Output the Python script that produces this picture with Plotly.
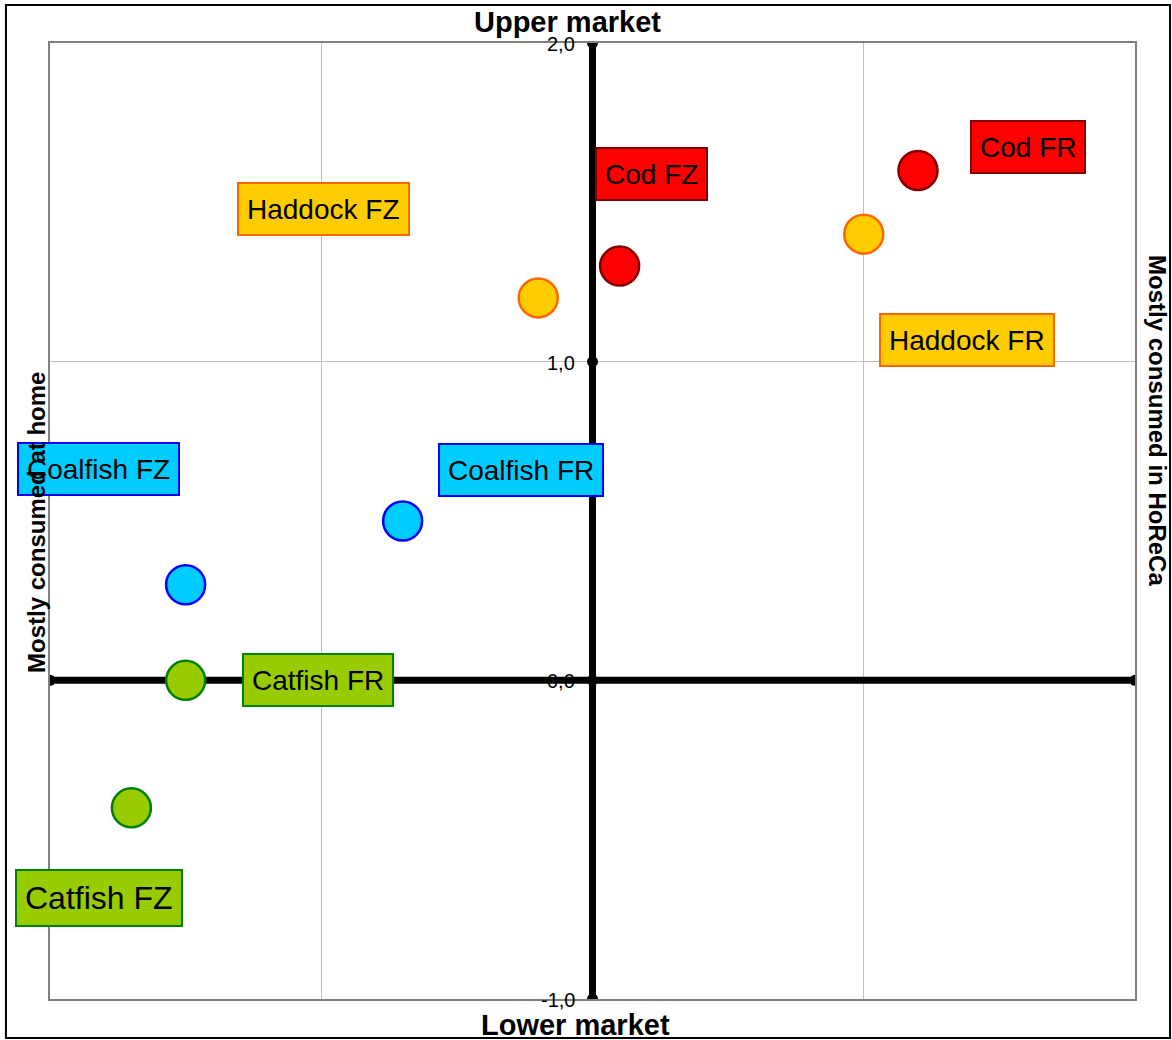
import plotly.graph_objects as go

# ---- data ----
names = ["Cod FR", "Cod FZ", "Haddock FZ", "Haddock FR",
         "Coalfish FZ", "Coalfish FR", "Catfish FR", "Catfish FZ"]
x_vals = [1.2, 0.1, -0.2, 1.0, -1.5, -0.7, -1.5, -1.7]
y_vals = [1.6, 1.3, 1.2, 1.4, 0.3, 0.5, 0.0, -0.4]
species = ["Cod", "Cod", "Haddock", "Haddock", "Coalfish", "Coalfish", "Catfish", "Catfish"]
y_ticks = [2.0, 1.0, 0.0, -1.0]
y_tick_labels = ["2,0", "1,0", "0,0", "-1,0"]
x_range = [-2, 2]
y_range = [-1, 2]

# ---- styles ----
fill = {"Cod": "#FF0000", "Haddock": "#FFCC00", "Coalfish": "#00CCFF", "Catfish": "#99CC00"}
edge = {"Cod": "#800000", "Haddock": "#FF6600", "Coalfish": "#0000FF", "Catfish": "#008000"}
# label offsets (pixels) of each label box centre from its point
label_dx = [110, 32, -215, 103, -87, 118, 132, -32]
label_dy = [23, 92, 89, -106, 116, 51, 0, -90]
label_size = [28, 28, 28, 28, 28, 28, 28, 32]
label_h = [34, 34, 34, 34, 34, 34, 34, 38]

FONT = "Liberation Sans, Arial, sans-serif"

fig = go.Figure()

# central axes (thick black)
fig.add_trace(go.Scatter(x=x_range, y=[0, 0], mode="lines",
                         line=dict(color="black", width=7), hoverinfo="skip", showlegend=False))
fig.add_trace(go.Scatter(x=[0, 0], y=y_range, mode="lines",
                         line=dict(color="black", width=7), hoverinfo="skip", showlegend=False))
fig.add_trace(go.Scatter(x=[0] * len(y_ticks) + x_range, y=y_ticks + [0, 0], mode="markers",
                         marker=dict(color="black", size=11), hoverinfo="skip", showlegend=False))

# data points
fig.add_trace(go.Scatter(
    x=x_vals, y=y_vals, mode="markers", text=names, showlegend=False,
    marker=dict(size=39, color=[fill[s] for s in species],
                line=dict(color=[edge[s] for s in species], width=2.5)),
))

annotations = []
for n, x, y, s, dx, dy, fs, h in zip(names, x_vals, y_vals, species, label_dx, label_dy,
                                     label_size, label_h):
    annotations.append(dict(
        x=x, y=y, xref="x", yref="y", text=n, showarrow=False,
        xshift=dx, yshift=dy, xanchor="center", yanchor="middle",
        font=dict(family=FONT, size=fs, color="black"), height=h, valign="middle",
        bgcolor=fill[s], bordercolor=edge[s], borderwidth=2, borderpad=8,
    ))

for v, t in zip(y_ticks, y_tick_labels):
    annotations.append(dict(
        x=0, y=v, xref="x", yref="y", text=t, showarrow=False,
        xanchor="right", yanchor="middle", xshift=-16, yshift=-1,
        font=dict(family=FONT, size=20, color="black"),
    ))

title_font = dict(family=FONT, size=29, color="black")
annotations += [
    dict(x=0.4774, y=1.022, xref="paper", yref="paper", text="<b>Upper market</b>",
         showarrow=False, xanchor="center", yanchor="middle", font=title_font),
    dict(x=0.4839, y=-0.0272, xref="paper", yref="paper", text="<b>Lower market</b>",
         showarrow=False, xanchor="center", yanchor="middle", font=title_font),
    dict(x=-0.012, y=0.499, xref="paper", yref="paper", text="<b>Mostly consumed at home</b>",
         showarrow=False, xanchor="center", yanchor="middle", textangle=-90,
         font=dict(family=FONT, size=24, color="black")),
    dict(x=1.0212, y=0.6056, xref="paper", yref="paper", text="<b>Mostly consumed in HoReCa</b>",
         showarrow=False, xanchor="center", yanchor="middle", textangle=90,
         font=dict(family=FONT, size=24, color="black")),
]

fig.update_layout(
    width=1172, height=1040,
    margin=dict(l=50, r=37, t=43, b=41),
    paper_bgcolor="white", plot_bgcolor="white",
    annotations=annotations,
    shapes=[dict(type="rect", xref="paper", yref="paper",
                 x0=-0.0406, x1=1.0323, y0=-0.0408, y1=1.0397,
                 line=dict(color="black", width=2), fillcolor="rgba(0,0,0,0)", layer="above")],
    xaxis=dict(range=x_range, dtick=1, showgrid=True, gridcolor="#C0C0C0", gridwidth=1,
               zeroline=False, showticklabels=False, ticks="",
               showline=True, mirror=True, linecolor="#808080", linewidth=2),
    yaxis=dict(range=y_range, dtick=1, showgrid=True, gridcolor="#C0C0C0", gridwidth=1,
               zeroline=False, showticklabels=False, ticks="",
               showline=True, mirror=True, linecolor="#808080", linewidth=2),
)

fig.write_html("out.html", config={"displayModeBar": False},
               post_script="document.body.style.margin='0';document.body.style.overflow='hidden';")
